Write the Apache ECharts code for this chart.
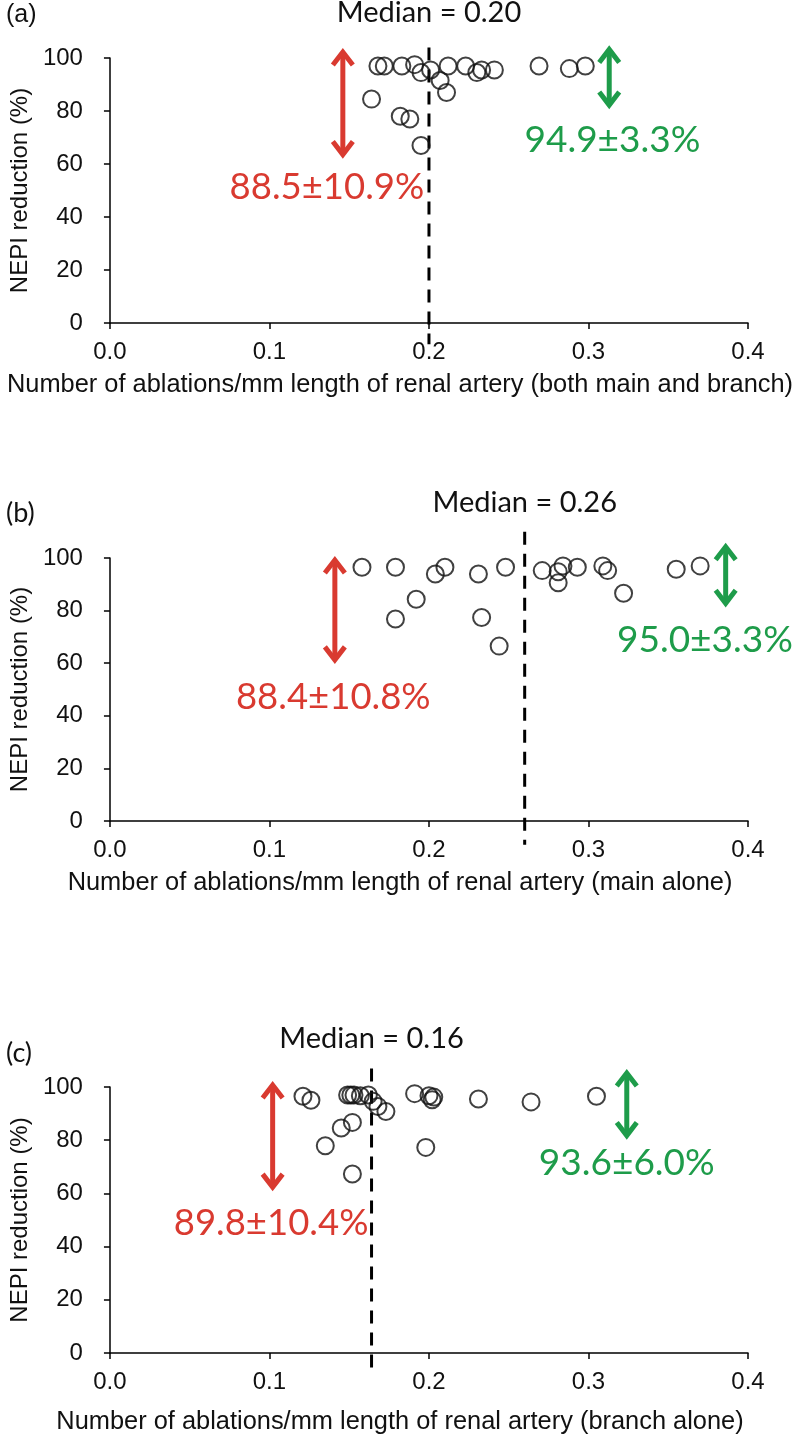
<!DOCTYPE html>
<html><head><meta charset="utf-8">
<script src="https://cdn.jsdelivr.net/npm/echarts@6/dist/echarts.min.js"></script>
<style>html,body{margin:0;padding:0;background:#fff}#c{width:800px;height:1437px}</style>
</head><body><div id="c"></div>
<script>
// ---- data ----
const xTickLabels = ['0.0', '0.1', '0.2', '0.3', '0.4'];
const yTickLabels = ['0', '20', '40', '60', '80', '100'];
const pointsA = [[0.168,97],[0.172,97],[0.183,97],[0.191,97.5],[0.195,94.5],[0.201,95.5],[0.207,91.5],[0.211,87],[0.212,97],[0.223,97],[0.230,94.5],[0.233,95.5],[0.241,95.5],[0.269,97],[0.288,96],[0.298,97],[0.164,84.5],[0.182,78],[0.188,77],[0.195,67]];
const pointsB = [[0.158,96.5],[0.179,96.5],[0.179,76.8],[0.192,84.3],[0.204,93.9],[0.210,96.5],[0.231,93.9],[0.233,77.4],[0.244,66.5],[0.248,96.5],[0.271,95.2],[0.281,94.8],[0.284,97],[0.281,90.6],[0.293,96.5],[0.309,97],[0.312,95.2],[0.322,86.6],[0.355,95.7],[0.370,97]];
const pointsC = [[0.121,96.5],[0.126,95],[0.149,97],[0.151,97],[0.153,97],[0.157,96.7],[0.162,97],[0.165,94.6],[0.168,92.7],[0.173,90.8],[0.152,86.7],[0.145,84.6],[0.135,77.9],[0.152,67.3],[0.191,97.5],[0.200,96.7],[0.202,95.2],[0.203,96.2],[0.198,77.3],[0.231,95.5],[0.264,94.4],[0.305,96.5]];
const medians = [0.20, 0.26, 0.164];
const medianLabels = ['Median = 0.20', 'Median = 0.26', 'Median = 0.16'];
const medianDashSpan = [[104, -8], [110, -9], [107, -6]];
const medianLabelY = [117, 121, 118];
const redArrows = [[0.146, 103, 62.8], [0.141, 100, 60.5], [0.102, 101.5, 61.6]];
const greenArrows = [[0.313, 104, 81.5], [0.386, 105, 82], [0.324, 106, 81]];
const redLabels = ['88.5±10.9%', '88.4±10.8%', '89.8±10.4%'];
const greenLabels = ['94.9±3.3%', '95.0±3.3%', '93.6±6.0%'];
const redLabelAt = [[0.136, 51.3], [0.140, 47], [0.101, 48.9]];
const greenLabelAt = [[0.315, 69], [0.373, 68.8], [0.324, 71.5]];
const xNames = ['Number of ablations/mm length of renal artery (both main and branch)',
  'Number of ablations/mm length of renal artery (main alone)',
  'Number of ablations/mm length of renal artery (branch alone)'];
const yName = 'NEPI reduction (%)';
const panelTags = ['(a)', '(b)', '(c)'];
const pointSets = [pointsA, pointsB, pointsC];

// ---- layout ----
const RED = '#d93a30', GREEN = '#1e9c4a';
const grids = [
  { left: 100, width: 648, top: 58, height: 265 },
  { left: 100, width: 648, top: 558, height: 263 },
  { left: 100, width: 648, top: 1087, height: 266 }
];
const xNameY = [372, 870, 1409];
const tagY = [3, 500, 1040];

const xAxes = [], yAxes = [], series = [], graphics = [];
grids.forEach((g, i) => {
  xAxes.push({
    type: 'value', gridIndex: i, min: 0, max: 0.4, interval: 0.1,
    splitLine: { show: false },
    axisLine: { show: true, onZero: false, lineStyle: { color: '#000', width: 1.5 } },
    axisTick: { show: true, length: 6, lineStyle: { color: '#000', width: 1.5 } },
    axisLabel: { color: '#111', fontSize: 24, fontFamily: 'Liberation Sans', margin: 17,
      formatter: v => xTickLabels[Math.round(v * 10)] }
  });
  yAxes.push({
    type: 'value', gridIndex: i, min: 0, max: 100, interval: 20,
    splitLine: { show: false },
    axisLine: { show: true, lineStyle: { color: '#000', width: 1.5 } },
    axisTick: { show: true, length: 6, lineStyle: { color: '#000', width: 1.5 } },
    axisLabel: { color: '#111', fontSize: 24, fontFamily: 'Liberation Sans', margin: 27,
      formatter: v => yTickLabels[Math.round(v / 20)] },
    name: yName, nameLocation: 'middle', nameGap: 70, nameRotate: 90,
    nameTextStyle: { color: '#111', fontSize: 24, fontFamily: 'Liberation Sans' }
  });
  series.push({
    type: 'scatter', xAxisIndex: i, yAxisIndex: i, data: pointSets[i],
    symbol: 'circle', symbolSize: 17,
    itemStyle: { color: 'rgba(0,0,0,0)', borderColor: '#111', borderWidth: 2 },
    emphasis: { disabled: true }, z: 5
  });
  series.push({
    type: 'line', xAxisIndex: i, yAxisIndex: i, clip: false, symbol: 'none',
    data: [[medians[i], medianDashSpan[i][0]], [medians[i], medianDashSpan[i][1]]],
    lineStyle: { color: '#000', width: 3, type: [13, 9] }, z: 4
  });
  series.push({
    type: 'custom', xAxisIndex: i, yAxisIndex: i, clip: false, z: 6,
    data: [[0]],
    renderItem: (params, api) => {
      const children = [];
      const arrow = (a, color) => {
        const top = api.coord([a[0], a[1]]);
        const bot = api.coord([a[0], a[2]]);
        const hw = 10, hh = 15;
        children.push({ type: 'line', shape: { x1: top[0], y1: top[1] + 3, x2: bot[0], y2: bot[1] - 3 },
          style: { stroke: color, lineWidth: 5 } });
        children.push({ type: 'polyline', shape: { points: [[top[0] - hw, top[1] + hh], [top[0], top[1] + 2], [top[0] + hw, top[1] + hh]] },
          style: { stroke: color, lineWidth: 5, fill: null, lineJoin: 'miter' } });
        children.push({ type: 'polyline', shape: { points: [[bot[0] - hw, bot[1] - hh], [bot[0], bot[1] - 2], [bot[0] + hw, bot[1] - hh]] },
          style: { stroke: color, lineWidth: 5, fill: null, lineJoin: 'miter' } });
      };
      arrow(redArrows[i], RED);
      arrow(greenArrows[i], GREEN);
      const txt = (pos, s, color, size) => {
        const p = api.coord(pos);
        children.push({ type: 'text', x: p[0], y: p[1],
          style: { text: s, fill: color, font: size + 'px Lato', align: 'center', verticalAlign: 'middle' } });
      };
      txt(redLabelAt[i], redLabels[i], RED, 36.5);
      txt(greenLabelAt[i], greenLabels[i], GREEN, 37);
      txt([medians[i], medianLabelY[i]], medianLabels[i], '#111', 29);
      return { type: 'group', children };
    }
  });
  graphics.push({ type: 'text', left: 'center', top: xNameY[i],
    style: { text: xNames[i], fill: '#111', font: '25.4px "Liberation Sans"' } });
  graphics.push({ type: 'text', left: 6, top: tagY[i],
    style: { text: panelTags[i], fill: '#111', font: (i === 0 ? '25px "Liberation Sans"' : '27px Lato') } });
});

const chart = echarts.init(document.getElementById('c'), null, { renderer: 'canvas' });
chart.setOption({
  backgroundColor: '#fff', animation: false,
  grid: grids, xAxis: xAxes, yAxis: yAxes, series, graphic: graphics
});
</script></body></html>
